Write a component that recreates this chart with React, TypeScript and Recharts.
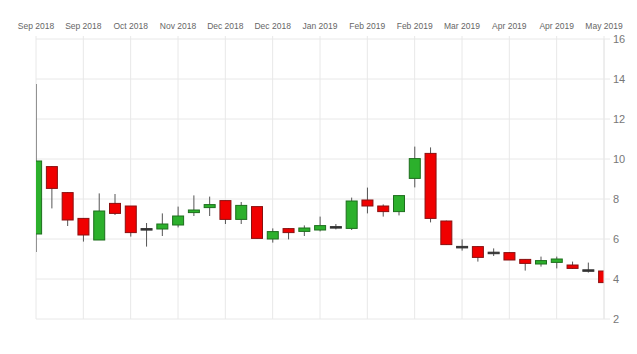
import { ComposedChart, Bar, XAxis, YAxis, CartesianGrid } from "recharts";

// one candle per week, x axis labels every third candle
const tickLabels = [
  "Sep 2018", "Sep 2018", "Oct 2018", "Nov 2018", "Dec 2018", "Dec 2018", "Jan 2019",
  "Feb 2019", "Feb 2019", "Mar 2019", "Apr 2019", "Apr 2019", "May 2019",
];
const opens = [
  6.25, 9.62, 8.32, 7.03, 5.95, 7.78, 7.65, 6.52, 6.5, 6.7, 7.32, 7.57, 7.92, 6.98, 7.62, 6.0, 6.52, 6.38, 6.45,
  6.62, 6.53, 7.95, 7.65, 7.37, 9.03, 10.28, 6.9, 5.63, 5.62, 5.34, 5.32, 4.98, 4.75, 4.83, 4.7, 4.46, 4.4,
];
const highs = [
  13.75, 9.65, 8.35, 7.05, 8.28, 8.25, 7.65, 6.8, 7.28, 7.62, 8.18, 8.12, 7.92, 7.85, 7.62, 6.53, 6.55, 6.68, 7.12,
  6.75, 8.07, 8.57, 7.73, 8.2, 10.62, 10.58, 6.92, 5.98, 5.65, 5.53, 5.35, 5.0, 5.12, 5.12, 4.87, 4.82, 4.42,
];
const lows = [
  5.35, 7.53, 6.65, 5.87, 5.95, 7.2, 6.12, 5.62, 6.15, 6.58, 7.15, 7.15, 6.75, 6.75, 6.02, 5.82, 5.98, 6.15, 6.38,
  6.48, 6.45, 7.28, 7.12, 7.18, 8.58, 6.83, 5.7, 5.42, 4.87, 5.15, 4.95, 4.42, 4.62, 4.53, 4.5, 4.32, 3.82,
];
const closes = [
  9.9, 8.53, 6.95, 6.2, 7.4, 7.28, 6.32, 6.48, 6.75, 7.15, 7.45, 7.72, 6.98, 7.68, 6.03, 6.37, 6.32, 6.55, 6.67,
  6.6, 7.9, 7.65, 7.37, 8.17, 10.02, 7.03, 5.72, 5.6, 5.08, 5.3, 4.95, 4.78, 4.92, 5.0, 4.53, 4.44, 3.82,
];
const yTicks = [2, 4, 6, 8, 10, 12, 14, 16];

const data = opens.map((o, i) => ({
  idx: i,
  open: o,
  high: highs[i],
  low: lows[i],
  close: closes[i],
  range: [lows[i], highs[i]],
}));

const Candle = (props: any) => {
  const { x, y, width, height, payload } = props;
  const { open, close, high, low } = payload;
  const top = Math.min(y, y + height);
  const h = Math.abs(height);
  const ratio = high - low === 0 ? 0 : h / (high - low);
  const yOf = (v: number) => top + (high - v) * ratio;
  const cx = x + width / 2;
  const up = close >= open;
  const doji = Math.abs(close - open) < 0.05;
  const bTop = yOf(Math.max(open, close));
  const bBot = yOf(Math.min(open, close));
  const fill = doji ? "#333" : up ? "#2cb02c" : "#f00000";
  const stroke = doji ? "#333" : up ? "#1d6e1d" : "#8a1010";
  return (
    <g>
      <line x1={cx} x2={cx} y1={yOf(high)} y2={yOf(low)} stroke="#555" strokeWidth={1} />
      <rect
        x={x + 0.5}
        y={bTop}
        width={width - 1}
        height={Math.max(bBot - bTop, 1.5)}
        fill={fill}
        stroke={stroke}
        strokeWidth={1}
      />
    </g>
  );
};

const XTick = (props: any) => {
  const { x, payload } = props;
  return (
    <text x={x} y={29} textAnchor="middle" fontSize={8.5} fill="#666" fontFamily="Liberation Sans, Arial, sans-serif">
      {tickLabels[payload.value / 3]}
    </text>
  );
};

const YTick = (props: any) => {
  const { y, payload } = props;
  return (
    <text x={613} y={y + 4} textAnchor="start" fontSize={11} fill="#777" fontFamily="Liberation Sans, Arial, sans-serif">
      {payload.value}
    </text>
  );
};

export default function App() {
  return (
    <div style={{ position: "absolute", left: 0, top: 0, background: "#fff" }}>
      <ComposedChart width={637} height={354} data={data} margin={{ top: 9, right: 0, bottom: 35, left: 36 }}>
        <CartesianGrid stroke="#e8e8e8" />
        <XAxis
          dataKey="idx"
          type="number"
          orientation="top"
          domain={[0, 36]}
          ticks={tickLabels.map((_, i) => i * 3)}
          allowDataOverflow
          height={30}
          axisLine={false}
          tickLine={{ stroke: "#e8e8e8" }}
          tickSize={3}
          tick={<XTick />}
        />
        <YAxis
          orientation="right"
          domain={[2, 16]}
          ticks={yTicks}
          width={33}
          axisLine={{ stroke: "#e8e8e8" }}
          tickLine={{ stroke: "#e8e8e8" }}
          tickSize={6}
          tick={<YTick />}
        />
        <Bar dataKey="range" barSize={12} shape={<Candle />} isAnimationActive={false} />
      </ComposedChart>
    </div>
  );
}
